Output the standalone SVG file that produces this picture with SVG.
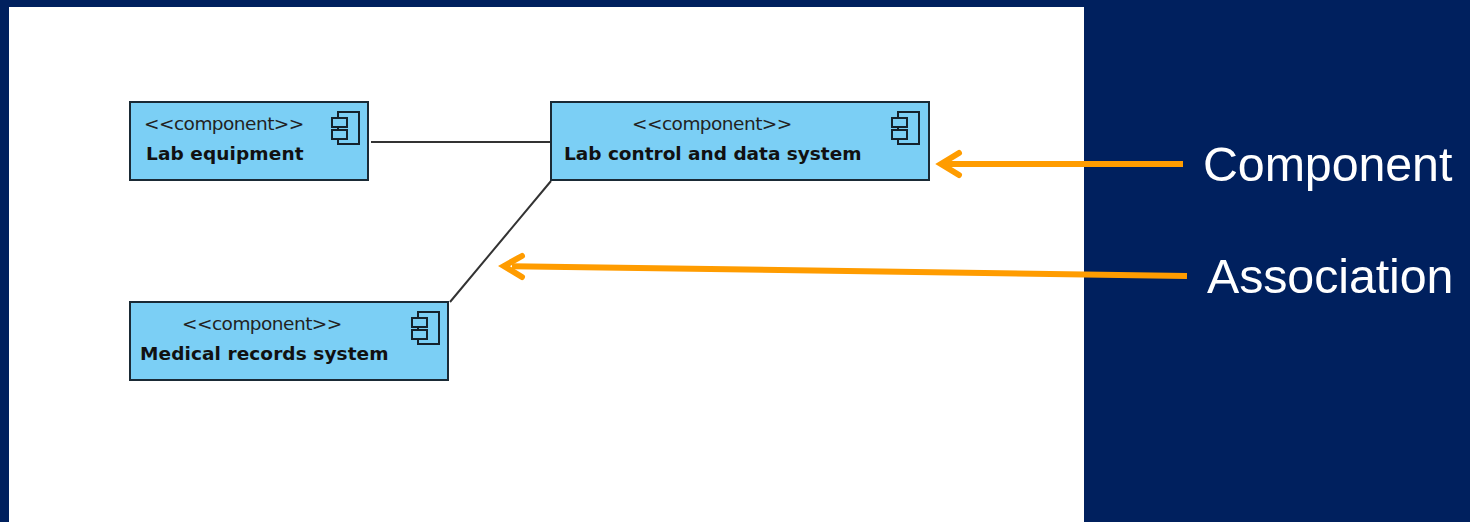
<svg xmlns="http://www.w3.org/2000/svg" width="1470" height="522" viewBox="0 0 1470 522">
<style>
.n{fill:#7bcff5;stroke:#1a2a35;stroke-width:2}
.ic{fill:#7bcff5;stroke:#14222c;stroke-width:2}
.s{font:18.5px "DejaVu Sans",Verdana,sans-serif;fill:#222;letter-spacing:-.35px}
.b{font:bold 18.5px "DejaVu Sans",Verdana,sans-serif;fill:#111;letter-spacing:-.5px}
.l{font:48.4px "Liberation Sans",Arial,sans-serif;fill:#fff;letter-spacing:-.1px}
.c{stroke:#333;stroke-width:2;fill:none}
.o{stroke:#ff9c00;stroke-width:6;fill:none}
.h{stroke:#ff9c00;stroke-width:6;fill:none;stroke-linecap:round;stroke-linejoin:miter}
</style>
<defs><g id="i"><rect class="ic" x="6" y="0" width="21" height="32"/><rect class="ic" x="0" y="6" width="15" height="9"/><rect class="ic" x="0" y="18" width="15" height="9"/></g></defs>
<rect width="1470" height="522" fill="#00205e"/>
<rect x="9" y="7" width="1075" height="515" fill="#fff"/>
<g id="connectors"><path class="c" d="M371 142H550M551 181L450 302"/></g>
<g id="lab-equipment"><rect class="n" x="130" y="102" width="238" height="78"/><text class="s" x="144" y="130" textLength="160">&lt;&lt;component&gt;&gt;</text><text class="b" x="146" y="160" textLength="157">Lab equipment</text><use href="#i" x="332" y="112"/></g>
<g id="lab-control"><rect class="n" x="551" y="102" width="378" height="78"/><text class="s" x="632" y="130" textLength="160">&lt;&lt;component&gt;&gt;</text><text class="b" x="564" y="160" textLength="297">Lab control and data system</text><use href="#i" x="892" y="112"/></g>
<g id="medical-records"><rect class="n" x="130" y="302" width="318" height="78"/><text class="s" x="182" y="330" textLength="160">&lt;&lt;component&gt;&gt;</text><text class="b" x="140" y="360" textLength="248">Medical records system</text><use href="#i" x="412" y="312"/></g>
<g id="callouts"><path class="o" d="M1183 164H945M1187 276L512 266.2"/>
<path class="h" d="M959 153L941 164L959 175M522 256L504 266L522 277"/>
<text class="l" x="1203" y="181">Component</text><text class="l" x="1207" y="293">Association</text></g>
</svg>
